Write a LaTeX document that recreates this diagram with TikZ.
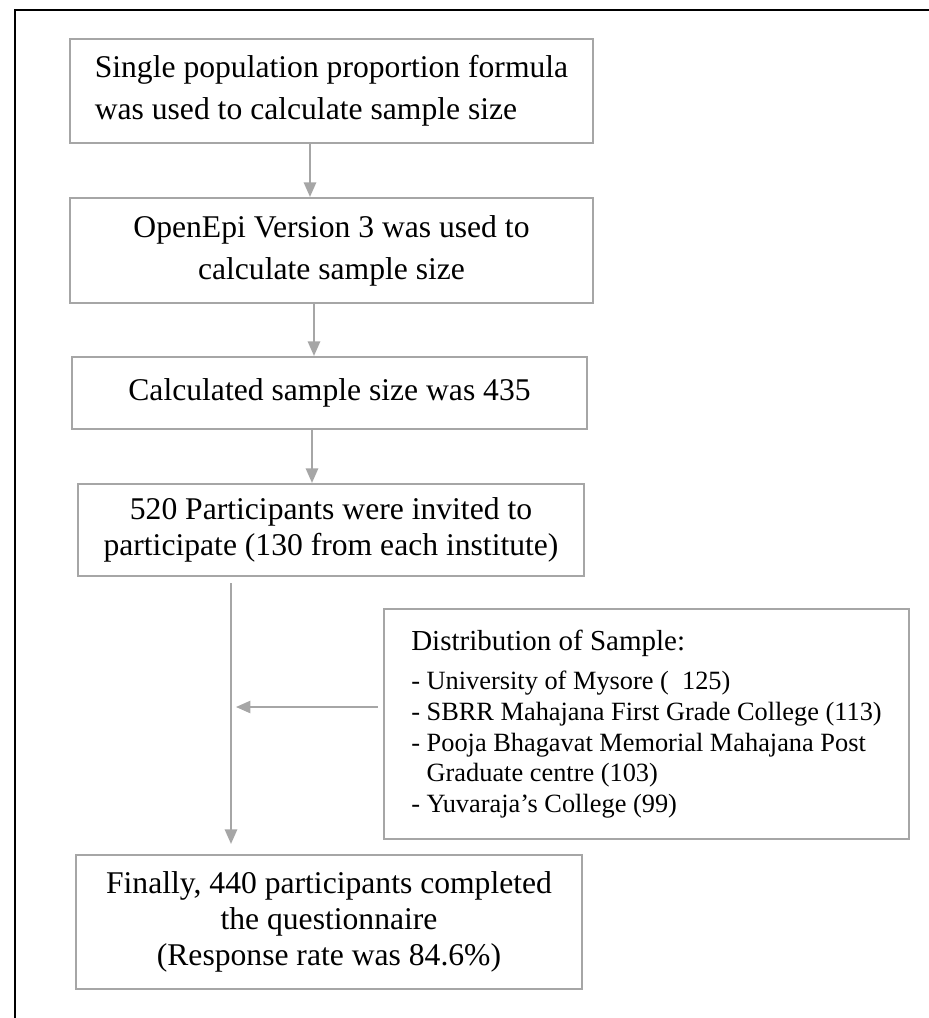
\documentclass[tikz,border=0pt]{standalone}
\usepackage{fontspec}
\setmainfont{Liberation Serif}
\usetikzlibrary{arrows.meta}
\definecolor{boxgray}{RGB}{166,166,166}
\tikzstyle{flowbox}=[draw=boxgray, line width=1.3pt, inner sep=4pt, align=center,
    font=\fontsize{18}{24}\selectfont]
\tikzstyle{flowarrow}=[draw=boxgray, line width=0.75pt,
    -{Triangle[length=0.29cm,width=0.25cm,fill=boxgray]}]

\begin{document}
\begin{tikzpicture}[x=0.02cm, y=-0.02cm]
    \useasboundingbox (0,0) rectangle (929,1018);
    % frame round the figure
    \draw[line width=1.2pt] (14.8,1018) -- (14.8,9.8) -- (929,9.8);
    % columns and rows for the connectors
    \coordinate (colA) at (310,0);
    \coordinate (colB) at (314,0);
    \coordinate (colC) at (312,0);
    \coordinate (colL) at (231,0);
    \coordinate (rowD) at (0,707);
    % main steps
    \node[flowbox, align=left, minimum width=10.46cm, minimum height=2.08cm]
        (formula) at (331.5,91) {Single population proportion formula\\was used to calculate sample size};
    \node[flowbox, minimum width=10.46cm, minimum height=2.1cm]
        (openepi) at (331.5,250.5) {OpenEpi Version 3 was used to\\calculate sample size};
    \node[flowbox, minimum width=10.3cm, minimum height=1.44cm]
        (calc) at (329.5,393) {Calculated sample size was 435};
    \node[flowbox, font=\fontsize{18}{20.4}\selectfont, minimum width=10.12cm, minimum height=1.84cm]
        (invited) at (331,530) {520 Participants were invited to\\participate (130 from each institute)};
    \node[flowbox, font=\fontsize{18}{20.4}\selectfont, minimum width=10.12cm, minimum height=2.68cm]
        (final) at (329,922) {Finally, 440 participants completed\\the questionnaire\\(Response rate was 84.6\%)};
    % side box
    \node[flowbox, align=left, font=\fontsize{15}{17.4}\selectfont, minimum width=10.5cm, minimum height=4.6cm]
        (distrib) at (646.5,724) {{\fontsize{16.5}{17.4}\selectfont Distribution of Sample:}\\[5pt]
        - University of Mysore (\ \ 125)\\
        - SBRR Mahajana First Grade College (113)\\
        - Pooja Bhagavat Memorial Mahajana Post\\
        \hphantom{-}\ Graduate centre (103)\\
        - Yuvaraja’s College (99)};
    % connectors
    \draw[flowarrow] (formula.south -| colA) -- (openepi.north -| colA);
    \draw[flowarrow] (openepi.south -| colB) -- (calc.north -| colB);
    \draw[flowarrow] (calc.south -| colC) -- (invited.north -| colC);
    \draw[flowarrow, shorten <=0.12cm, shorten >=0.2cm] (invited.south -| colL) -- (final.north -| colL);
    \draw[flowarrow, shorten <=0.1cm, shorten >=0.1cm] (distrib.west |- rowD) -- (colL |- rowD);
\end{tikzpicture}
\end{document}
